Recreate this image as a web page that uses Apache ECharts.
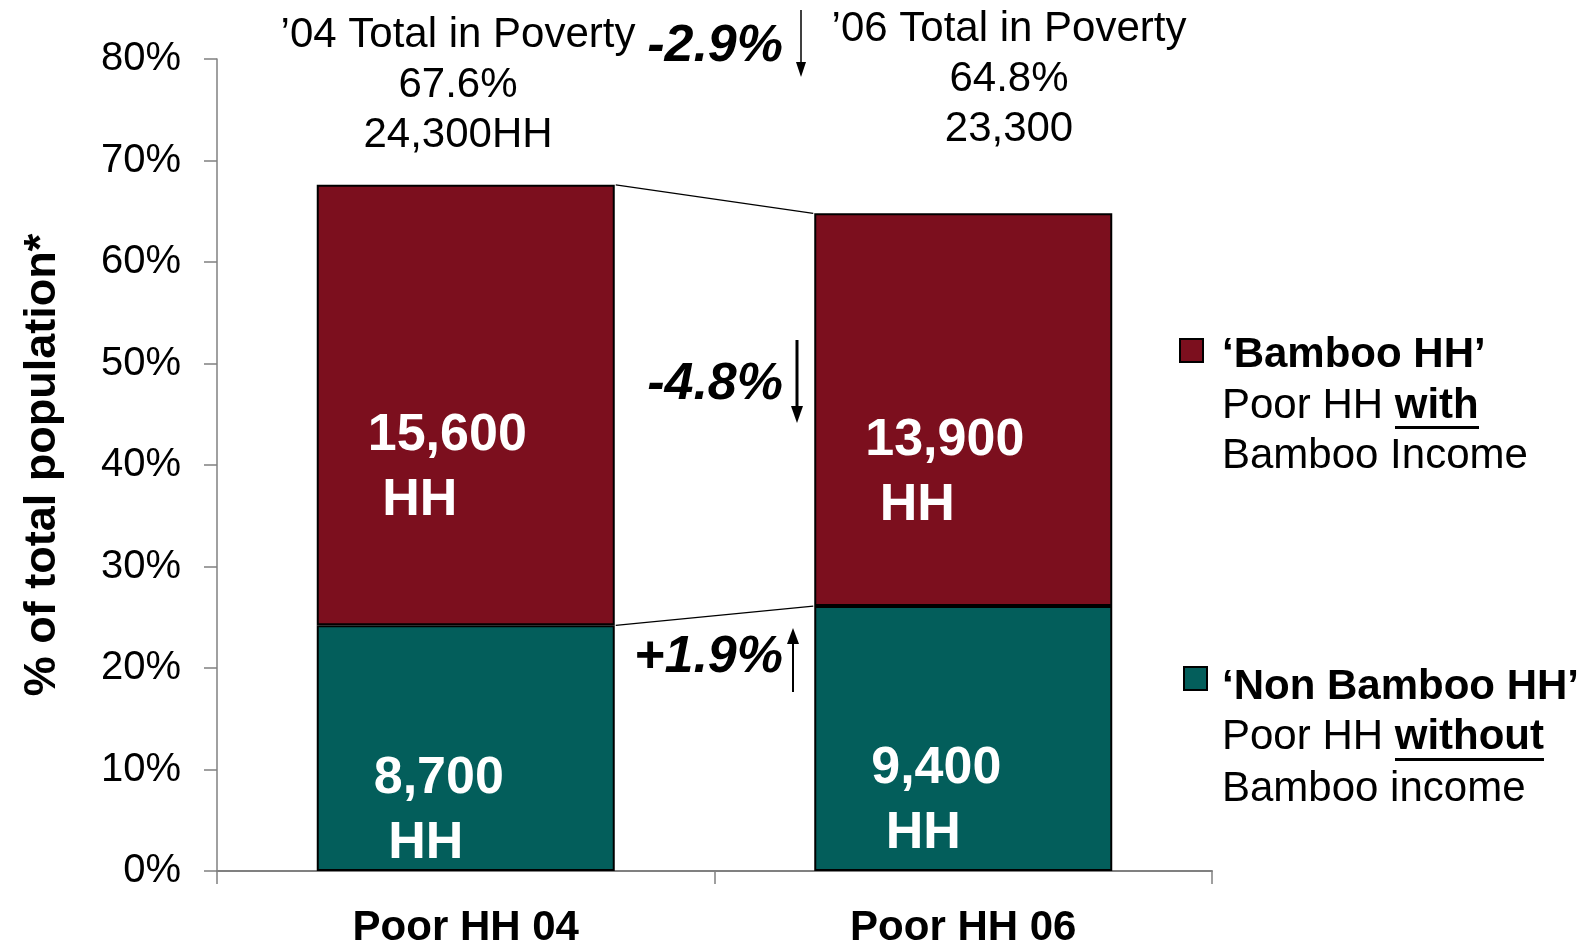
<!DOCTYPE html>
<html>
<head>
<meta charset="utf-8">
<title>Poverty HH</title>
<script src="https://cdn.jsdelivr.net/npm/echarts@6.0.0/dist/echarts.min.js"></script>
<style>
  html, body { margin: 0; padding: 0; background: #fff; }
  #chart { width: 1595px; height: 944px; }
</style>
</head>
<body>
<div id="chart"></div>
<script>
// values (% of total population)
const categories = ['Poor HH 04', 'Poor HH 06'];
const nonBambooPct = [24.2, 26.1];
const bambooPct = [43.4, 38.7];
const nonBambooHH = ['8,700', '9,400'];
const bambooHH = ['15,600', '13,900'];
const totalPct = [67.6, 64.8];
const totalHH = ['24,300HH', '23,300'];
const totalTitles = ['\u201904 Total in Poverty', '\u201906 Total in Poverty'];
const changeTexts = ['-2.9%', '-4.8%', '+1.9%'];

const FONT = "'Liberation Sans', Arial, sans-serif";
const RED = '#7c0f1e';
const TEAL = '#035e5b';
const AXIS_GREY = '#808080';
const BAR_WIDTH = 298;

const chart = echarts.init(document.getElementById('chart'));

const barLabel = (texts, dx) => ({
  show: true,
  position: 'insideLeft',
  offset: [dx, 63],
  color: '#fff',
  fontFamily: FONT,
  fontWeight: 'bold',
  fontSize: 52,
  lineHeight: 65,
  formatter: p => texts[p.dataIndex] + '\n HH'
});

// connector lines: top of the stacks and the boundary between segments
const connectors = [
  [0, totalPct[0], 1, totalPct[1]],
  [0, nonBambooPct[0], 1, nonBambooPct[1]]
];

const txt = (x, y, text, opts) => ({
  type: 'text',
  x: x,
  y: y,
  style: Object.assign({
    text: text,
    fill: '#000',
    font: '42px ' + FONT,
    textAlign: 'left',
    textVerticalAlign: 'middle'
  }, opts || {})
});

const arrow = (x, yFrom, yTo, w, head) => {
  const dir = yTo > yFrom ? 1 : -1;
  return [
    { type: 'line', shape: { x1: x, y1: yFrom, x2: x, y2: yTo - dir * (head.h - 2) },
      style: { stroke: '#000', lineWidth: w } },
    { type: 'polygon', shape: { points: [[x - head.w, yTo - dir * head.h], [x + head.w, yTo - dir * head.h], [x, yTo]] },
      style: { fill: '#000' } }
  ];
};

const rich = {
  r: { fontFamily: FONT, fontSize: 42, fill: '#000' },
  b: { fontFamily: FONT, fontSize: 42, fontWeight: 'bold', fill: '#000' }
};

const option = {
  animation: false,
  backgroundColor: '#fff',
  grid: { left: 217, right: 383, top: 59, bottom: 73, outerBoundsMode: 'none' },
  xAxis: {
    type: 'category',
    data: categories,
    axisLine: { lineStyle: { color: AXIS_GREY, width: 2 } },
    axisTick: { show: true, length: 13, lineStyle: { color: AXIS_GREY, width: 1.5 } },
    axisLabel: { color: '#000', fontFamily: FONT, fontWeight: 'bold', fontSize: 42, margin: 36 }
  },
  yAxis: {
    type: 'value',
    min: 0,
    max: 80,
    interval: 10,
    name: '% of total population*',
    nameLocation: 'middle',
    nameGap: 152,
    nameTextStyle: { color: '#000', fontFamily: FONT, fontWeight: 'bold', fontSize: 45 },
    axisLine: { show: true, lineStyle: { color: AXIS_GREY, width: 1.5 } },
    axisTick: { show: true, length: 13, lineStyle: { color: AXIS_GREY, width: 1.5 } },
    splitLine: { show: false },
    axisLabel: { color: '#000', fontFamily: FONT, fontSize: 40, margin: 36, formatter: '{value}%' }
  },
  series: [
    {
      name: 'Non Bamboo HH',
      type: 'bar',
      stack: 'total',
      barWidth: BAR_WIDTH,
      data: nonBambooPct,
      itemStyle: { color: TEAL, borderColor: '#000', borderWidth: 2 },
      label: barLabel(nonBambooHH, 52)
    },
    {
      name: 'Bamboo HH',
      type: 'bar',
      stack: 'total',
      barWidth: BAR_WIDTH,
      data: bambooPct,
      itemStyle: { color: RED, borderColor: '#000', borderWidth: 2 },
      label: barLabel(bambooHH, 46)
    },
    {
      type: 'custom',
      silent: true,
      encode: { x: [0, 2], y: [1, 3] },
      data: connectors,
      renderItem: (params, api) => {
        const p0 = api.coord([api.value(0), api.value(1)]);
        const p1 = api.coord([api.value(2), api.value(3)]);
        const half = BAR_WIDTH / 2;
        return {
          type: 'line',
          shape: { x1: p0[0] + half + 1, y1: p0[1], x2: p1[0] - half - 1, y2: p1[1] },
          style: { stroke: '#000', lineWidth: 1.3 }
        };
      }
    }
  ],
  graphic: [
    // totals above the bars
    txt(458, 85, totalTitles[0] + '\n' + totalPct[0] + '%\n' + totalHH[0],
      { textAlign: 'center', lineHeight: 50 }),
    txt(1009, 79, totalTitles[1] + '\n' + totalPct[1] + '%\n' + totalHH[1],
      { textAlign: 'center', lineHeight: 50 }),
    // change annotations
    txt(783, 47, changeTexts[0], { textAlign: 'right', font: 'italic bold 52px ' + FONT }),
    txt(783, 385, changeTexts[1], { textAlign: 'right', font: 'italic bold 52px ' + FONT }),
    txt(783, 658, changeTexts[2], { textAlign: 'right', font: 'italic bold 52px ' + FONT }),
    ...arrow(801, 10, 77, 1.5, { w: 5, h: 15 }),
    ...arrow(797, 340, 423, 3, { w: 6, h: 17 }),
    ...arrow(793, 692, 628, 2, { w: 6, h: 16 }),
    // legend
    { type: 'rect', shape: { x: 1180, y: 339, width: 23, height: 23 },
      style: { fill: RED, stroke: '#000', lineWidth: 2 } },
    txt(1222, 355, '\u2018Bamboo HH\u2019', { font: 'bold 42px ' + FONT }),
    txt(1222, 406, '{r|Poor HH }{b|with}', { rich: rich }),
    { type: 'rect', shape: { x: 1395, y: 426, width: 84, height: 3 }, style: { fill: '#000' } },
    txt(1222, 456, 'Bamboo Income'),
    { type: 'rect', shape: { x: 1184, y: 667, width: 23, height: 23 },
      style: { fill: TEAL, stroke: '#000', lineWidth: 2 } },
    txt(1222, 687, '\u2018Non Bamboo HH\u2019', { font: 'bold 42px ' + FONT }),
    txt(1222, 737, '{r|Poor HH }{b|without}', { rich: rich }),
    { type: 'rect', shape: { x: 1395, y: 758, width: 149, height: 3 }, style: { fill: '#000' } },
    txt(1222, 789, 'Bamboo income')
  ]
};

chart.setOption(option);
</script>
</body>
</html>
